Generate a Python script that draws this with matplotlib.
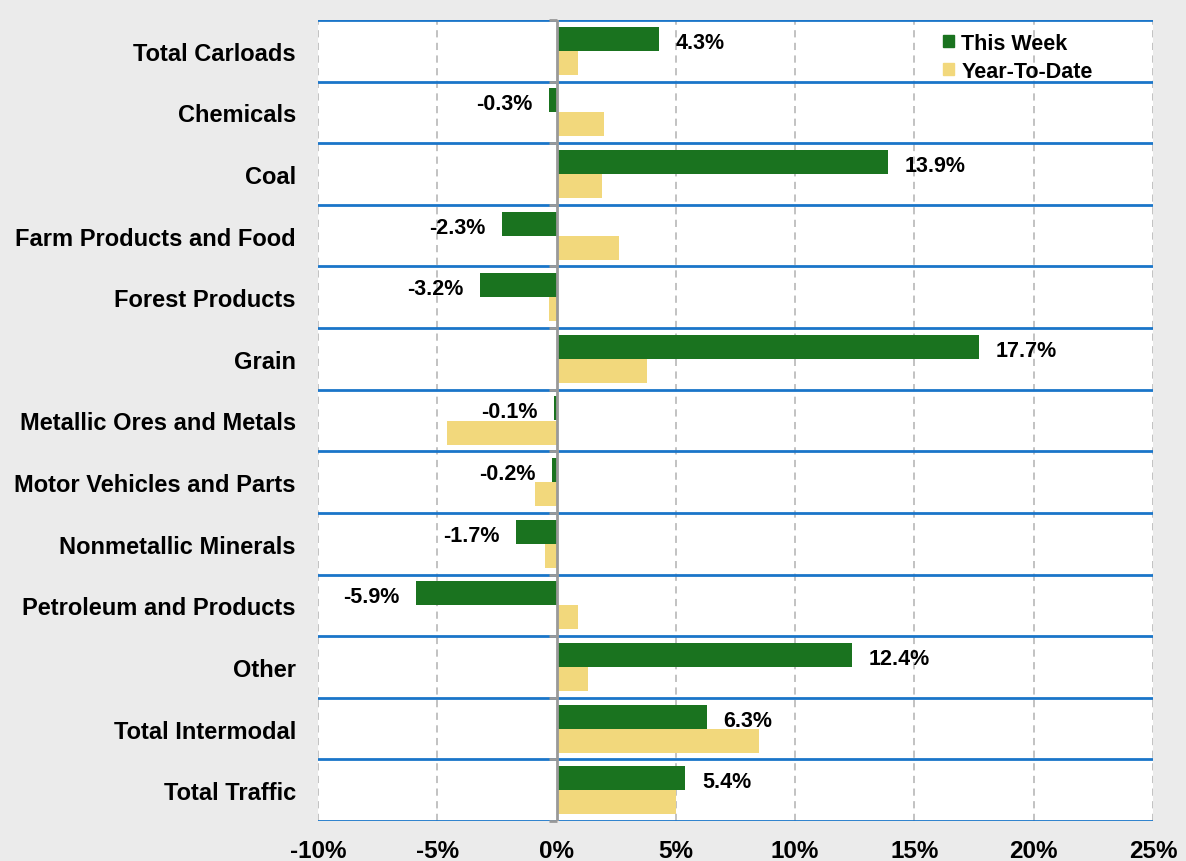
import matplotlib
matplotlib.use("Agg")
import matplotlib.pyplot as plt
import numpy as np
from matplotlib.patches import Patch

categories = ["Total Carloads", "Chemicals", "Coal", "Farm Products and Food",
              "Forest Products", "Grain", "Metallic Ores and Metals",
              "Motor Vehicles and Parts", "Nonmetallic Minerals",
              "Petroleum and Products", "Other", "Total Intermodal", "Total Traffic"]
this_week = [4.3, -0.3, 13.9, -2.3, -3.2, 17.7, -0.1, -0.2, -1.7, -5.9, 12.4, 6.3, 5.4]
year_to_date = [0.9, 2.0, 1.9, 2.6, -0.3, 3.8, -4.6, -0.9, -0.5, 0.9, 1.3, 8.5, 5.0]
xticks = [-10, -5, 0, 5, 10, 15, 20, 25]

plt.rcParams['font.family'] = ['Liberation Sans', 'DejaVu Sans']

GREEN = "#1a731f"
YELLOW = "#f2d87c"
BLUE = "#1a75c9"
BG = "#ebebeb"

fig = plt.figure(figsize=(11.86, 8.62), dpi=100, facecolor=BG)
ax = fig.add_axes([318/1186, 1-822/862, (1153-318)/1186, (822-21)/862])
ax.set_facecolor("white")

y = np.arange(len(categories))
h = 0.39
ax.barh(y - h/2, this_week, height=h, color=GREEN, zorder=3, label="This Week")
ax.barh(y + h/2, year_to_date, height=h, color=YELLOW, zorder=3, label="Year-To-Date")

for yi, v in zip(y, this_week):
    off = 12 if v >= 0 else -12
    ax.annotate(f"{v:.1f}%", xy=(v, yi - h/2), xytext=(off, -2.5), textcoords="offset points",
                ha="left" if v >= 0 else "right", va="center",
                fontsize=15.5, fontweight="bold", color="black", zorder=4)

ax.set_xlim(-10, 25)
ax.set_ylim(len(categories) - 0.5, -0.5)

for xv in xticks:
    if xv == 0:
        continue
    ax.axvline(xv, color="#bdbdbd", lw=1.3, ls=(0, (4, 3)), zorder=1)
seps = np.arange(len(categories) + 1) - 0.5
for s in seps:
    ax.axhline(s, color=BLUE, lw=2, zorder=2)
ax.axvline(0, color="#999999", lw=2, zorder=4)
ax.plot(np.zeros_like(seps), seps, ls="none", marker=0, ms=6, mew=2,
        color="#999999", zorder=4, clip_on=False)

for s in ax.spines.values():
    s.set_visible(False)

ax.set_xticks(xticks)
ax.set_xticklabels([f"{t}%" for t in xticks], fontsize=17.5, fontweight="bold")
ax.tick_params(axis="x", length=0, pad=13)
ax.set_yticks(y)
ax.set_yticklabels(categories, fontsize=17, fontweight="bold")
ax.tick_params(axis="y", length=0, pad=16)

handles = [Patch(color=GREEN, label="This Week"), Patch(color=YELLOW, label="Year-To-Date")]
leg = ax.legend(handles=handles, loc="upper left", bbox_to_anchor=((928-318)/835, 1.003),
                frameon=False, prop={"weight": "bold", "size": 15.5},
                handlelength=0.5, handleheight=0.5, handletextpad=0.35,
                labelspacing=0.33, borderaxespad=0.3)

fig.savefig("out.png", dpi=100, facecolor=BG)
